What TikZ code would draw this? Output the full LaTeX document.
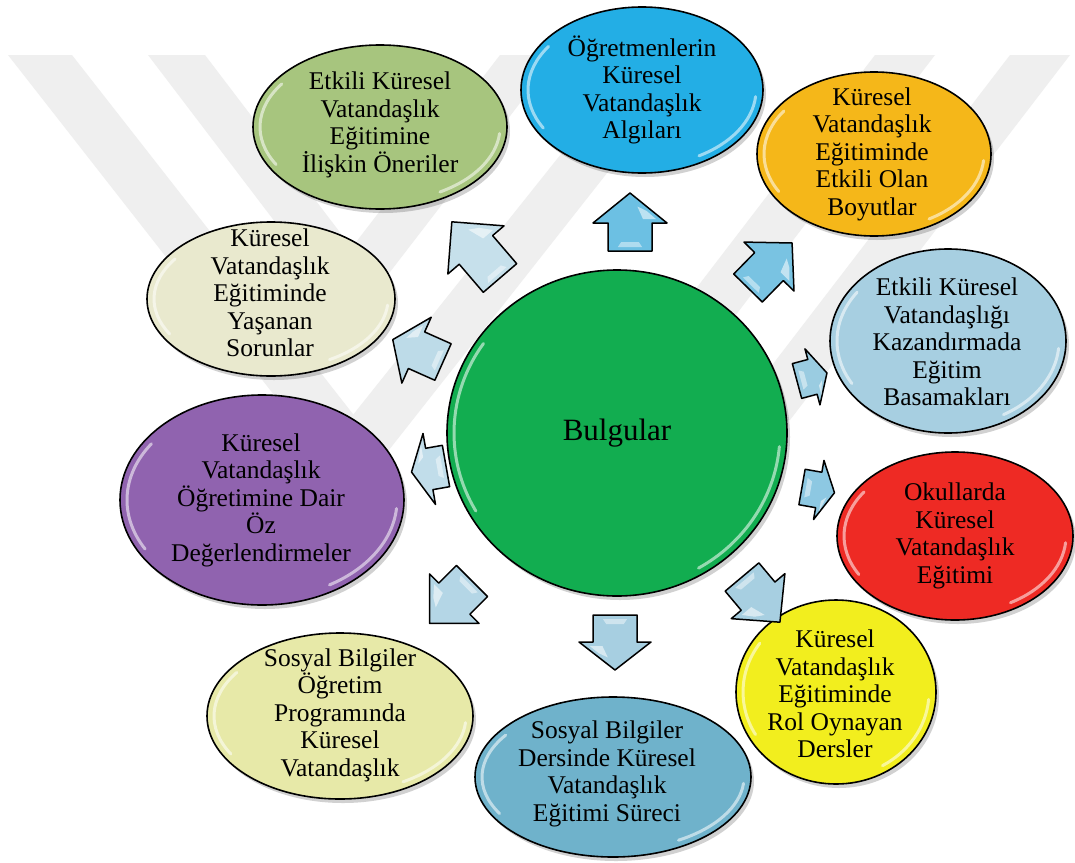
\documentclass[tikz,border=0pt]{standalone}
\usepackage{fontspec}
\setmainfont{Liberation Serif}
\usetikzlibrary{shapes.geometric}

\definecolor{mark}{HTML}{EFEFEF}
\definecolor{cOlive}{HTML}{A7C57E}
\definecolor{cSky}{HTML}{23AEE5}
\definecolor{cGold}{HTML}{F5B719}
\definecolor{cIce}{HTML}{A7CFE1}
\definecolor{cRed}{HTML}{EE2A24}
\definecolor{cYellow}{HTML}{F2EE1E}
\definecolor{cSteel}{HTML}{6FB2CB}
\definecolor{cPale}{HTML}{E7E9A8}
\definecolor{cPurple}{HTML}{9063AF}
\definecolor{cBeige}{HTML}{E9E9CE}
\definecolor{cCore}{HTML}{12AD50}

\tikzset{
  bubble/.style={ellipse, draw=black, line width=1.6pt, inner sep=0pt, outer sep=0pt},
  shade/.style={ellipse, fill=black, opacity=0.18, inner sep=0pt, draw=none},
  lbl/.style={align=center, inner sep=0pt, font=\fontsize{25.5}{27.5}\selectfont},
  glint/.style={white, opacity=0.55, line width=3pt, line cap=round},
  arrowline/.style={draw=black, line width=1.5pt, line join=round},
  band/.style={fill=mark, draw=none}
}

% block arrow: tail x, tail y, direction, length, shaft half-width, head half-width, head length, fill
\newcommand\blockarrow[8]{%
  \begin{scope}[shift={(#1,#2)}, rotate=#3]
    \draw[arrowline, fill=#8] (0,-#5) -- ({#4-#7},-#5) -- ({#4-#7},-#6) -- (#4,0)
      -- ({#4-#7},#6) -- ({#4-#7},#5) -- (0,#5) -- cycle;
    \fill[white, opacity=0.55] ({#4-#7+4},{0.35*#6}) -- ({#4-0.45*#7},{0.2*#6})
      -- ({#4-0.6*#7},{0.45*#6}) -- ({#4-#7+4},{0.7*#6}) -- cycle;
    \fill[white, opacity=0.45] (4,{-0.55*#5}) -- (9,{-0.4*#5}) -- (9,{0.4*#5}) -- (4,{0.55*#5}) -- cycle;
  \end{scope}}

% glossy rims inside an ellipse: centre x, centre y, inner x radius, inner y radius
\newcommand\gloss[4]{%
  \draw[glint] (#1,#2) ++(150:#3 and #4) arc[start angle=150, end angle=215, x radius=#3, y radius=#4];
  \draw[glint] (#1,#2) ++(5:#3 and #4) arc[start angle=5, end angle=60, x radius=#3, y radius=#4];}

\begin{document}
\begin{tikzpicture}[x=1pt, y=-1pt]
\useasboundingbox (0,0) rectangle (1075,862);
\fill[white] (0,0) rectangle (1075,862);

% faint watermark stripes
\fill[band] (8,55) -- (72,55) -- (385,455) -- (321,455) -- cycle;
\fill[band] (148,55) -- (205,55) -- (380,285) -- (323,285) -- cycle;
\fill[band] (640,55) -- (700,55) -- (385,455) -- (321,455) -- cycle;
\fill[band] (500,55) -- (557,55) -- (380,285) -- (323,285) -- cycle;
\fill[band] (875,55) -- (935,55) -- (640,440) -- (580,440) -- cycle;
\fill[band] (1010,55) -- (1070,55) -- (790,420) -- (730,420) -- cycle;

% shadows
\foreach \cx/\cy/\w/\h in {380/127/254/164, 642/90/242/166, 874/154/234/164, 948/341/236/184,
  955/536/236/168, 836/692/200/184, 613/777/276/160, 340/716/266/166, 262/500/284/210,
  271/299/248/154, 617/433/340/326}
  \node[shade, minimum width=\w pt, minimum height=\h pt] at (\cx+3,\cy+4) {};

% outer topics
\node[bubble, fill=cOlive,  minimum width=254pt, minimum height=164pt] (oneri)   at (380,127) {};
\node[bubble, fill=cSky,    minimum width=242pt, minimum height=166pt] (algi)    at (642,90)  {};
\node[bubble, fill=cGold,   minimum width=234pt, minimum height=164pt] (boyut)   at (874,154) {};
\node[bubble, fill=cIce,    minimum width=236pt, minimum height=184pt] (basamak) at (948,341) {};
\node[bubble, fill=cRed,    minimum width=236pt, minimum height=168pt] (okul)    at (955,536) {};
\node[bubble, fill=cYellow, minimum width=200pt, minimum height=184pt] (ders)    at (836,692) {};
\node[bubble, fill=cSteel,  minimum width=276pt, minimum height=160pt] (surec)   at (613,777) {};
\node[bubble, fill=cPale,   minimum width=266pt, minimum height=166pt] (program) at (340,716) {};
\node[bubble, fill=cPurple, minimum width=284pt, minimum height=210pt] (oz)      at (262,500) {};
\node[bubble, fill=cBeige,  minimum width=248pt, minimum height=154pt] (sorun)   at (271,299) {};
\node[bubble, fill=cCore,   minimum width=340pt, minimum height=326pt] (bulgu)   at (617,433) {};

\gloss{380}{127}{120}{75}
\gloss{642}{90}{114}{76}
\gloss{874}{154}{110}{75}
\gloss{948}{341}{111}{85}
\gloss{955}{536}{111}{77}
\gloss{836}{692}{93}{85}
\gloss{613}{777}{131}{73}
\gloss{340}{716}{126}{76}
\gloss{262}{500}{135}{98}
\gloss{271}{299}{117}{70}
\gloss{617}{433}{163}{156}

% arrows pointing from the centre to each topic
\blockarrow{630}{251}{90}{58}{22}{37}{30}{cSky!45!cIce}
\blockarrow{748}{288}{45.6}{63}{20}{35}{33}{cSky!35!cIce}
\blockarrow{797}{381}{15}{31}{18}{29}{15}{cIce!90!cSky}
\blockarrow{802}{487}{-10}{33}{18}{30}{16}{cIce!80!cSky}
\blockarrow{742}{577}{-50}{59}{22}{35}{34}{cIce}
\blockarrow{615}{615}{-90}{55}{22}{36}{28}{cIce}
\blockarrow{472}{581}{225}{60}{22}{35}{35}{cIce!85!white}
\blockarrow{446}{466}{190}{35}{21}{36}{18}{cIce!70!white}
\blockarrow{443}{362}{156}{55}{20}{36}{26}{cIce!75!white}
\blockarrow{500}{278}{130.6}{74}{22}{37}{37}{cIce!65!white}

% texts
\node[lbl] (t1)  at (380,125) {Etkili Küresel\\Vatandaşlık\\Eğitimine\\İlişkin Öneriler};
\node[lbl] (t2)  at (642,90)  {Öğretmenlerin\\Küresel\\Vatandaşlık\\Algıları};
\node[lbl] (t3)  at (872,154) {Küresel\\Vatandaşlık\\Eğitiminde\\Etkili Olan\\Boyutlar};
\node[lbl] (t4)  at (947,342) {Etkili Küresel\\Vatandaşlığı\\Kazandırmada\\Eğitim\\Basamakları};
\node[lbl] (t5)  at (955,536) {Okullarda\\Küresel\\Vatandaşlık\\Eğitimi};
\node[lbl] (t6)  at (835,694) {Küresel\\Vatandaşlık\\Eğitiminde\\Rol Oynayan\\Dersler};
\node[lbl] (t7)  at (607,774) {Sosyal Bilgiler\\Dersinde Küresel\\Vatandaşlık\\Eğitimi Süreci};
\node[lbl] (t8)  at (340,715) {Sosyal Bilgiler\\Öğretim\\Programında\\Küresel\\Vatandaşlık};
\node[lbl] (t9)  at (261,500) {Küresel\\Vatandaşlık\\Öğretimine Dair\\Öz\\Değerlendirmeler};
\node[lbl] (t10) at (270,293) {Küresel\\Vatandaşlık\\Eğitiminde\\Yaşanan\\Sorunlar};
\node[align=center, inner sep=0pt, font=\fontsize{31}{33}\selectfont] (t0) at (bulgu) {Bulgular};
\end{tikzpicture}
\end{document}
